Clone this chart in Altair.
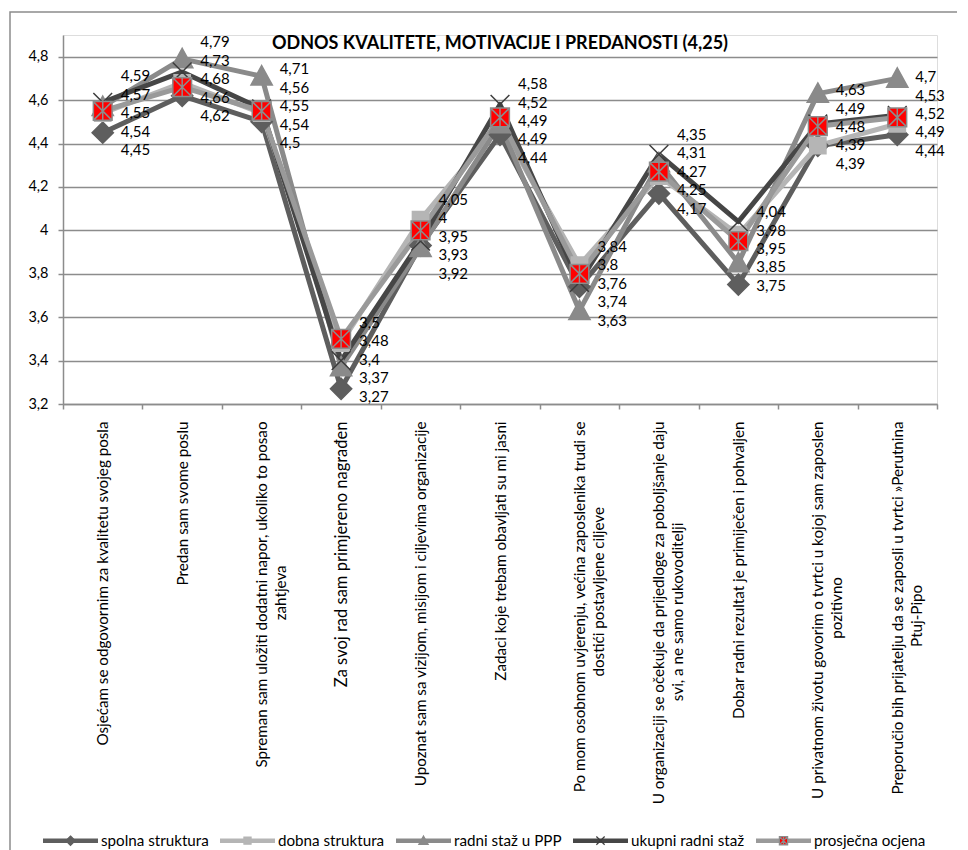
import altair as alt
import pandas as pd

# ---------------- data ----------------
categories = [
    "Osjećam se odgovornim za kvalitetu svojeg posla",
    "Predan sam svome poslu",
    "Spreman sam uložiti dodatni napor, ukoliko to posao\nzahtjeva",
    "Za svoj rad sam primjereno nagrađen",
    "Upoznat sam sa vizijom, misijom i ciljevima organizacije",
    "Zadaci koje trebam obavljati su mi jasni",
    "Po mom osobnom uvjerenju, većina zaposlenika trudi se\ndostići postavljene ciljeve",
    "U organizaciji se očekuje da prijedloge za poboljšanje daju\nsvi, a ne samo rukovoditelji",
    "Dobar radni rezultat je primiječen i pohvaljen",
    "U privatnom životu govorim o tvrtci u kojoj sam zaposlen\npozitivno",
    "Preporučio bih prijatelju da se zaposli u tvrtci »Perutnina\nPtuj-Pipo",
]
series_names = ["spolna struktura", "dobna struktura", "radni staž u PPP",
                "ukupni radni staž", "prosječna ocjena"]

spolna = [4.45, 4.62, 4.50, 3.27, 3.93, 4.44, 3.74, 4.17, 3.75, 4.39, 4.44]
dobna = [4.54, 4.68, 4.54, 3.48, 4.05, 4.49, 3.84, 4.25, 3.98, 4.39, 4.49]
radni_ppp = [4.57, 4.79, 4.71, 3.37, 3.92, 4.49, 3.63, 4.31, 3.85, 4.63, 4.70]
ukupni = [4.59, 4.73, 4.56, 3.40, 3.95, 4.58, 3.76, 4.35, 4.04, 4.49, 4.53]
prosjecna = [4.55, 4.66, 4.55, 3.50, 4.00, 4.52, 3.80, 4.27, 3.95, 4.48, 4.52]

y_ticks = [3.2, 3.4, 3.6, 3.8, 4.0, 4.2, 4.4, 4.6, 4.8]
title_text = "ODNOS KVALITETE, MOTIVACIJE I PREDANOSTI (4,25)"

# ---------------- styles ----------------
FONT = "Lato"
GRID = "#8c8c8c"
line_colors = ["#5e5e5e", "#b5b5b5", "#8a8a8a", "#464646", "#9a9a9a"]
marker_fill = ["#5e5e5e", "#b5b5b5", "#8a8a8a", "transparent", "#ff0000"]
marker_stroke = ["#5e5e5e", "#b5b5b5", "#8a8a8a", "#3c3c3c", "#8c8c8c"]


def with_ends(p):
    return "M-1,0L-1,0M1,0L1,0" + p


marker_paths = [
    with_ends("M0,-0.17L0.17,0L0,0.17L-0.17,0Z"),
    with_ends("M-0.13,-0.13L0.13,-0.13L0.13,0.13L-0.13,0.13Z"),
    with_ends("M0,-0.17L0.17,0.14L-0.17,0.14Z"),
    with_ends("M-0.15,-0.15L0.15,0.15M-0.15,0.15L0.15,-0.15"),
    with_ends("M-0.15,-0.15L0.15,-0.15L0.15,0.15L-0.15,0.15Z"
              "M-0.15,-0.15L0.15,0.15M-0.15,0.15L0.15,-0.15M0,-0.15L0,0.15"),
]
bar_path = "M-1,-0.06L1,-0.06M-1,-0.03L1,-0.03M-1,0L1,0M-1,0.03L1,0.03M-1,0.06L1,0.06"

# second line of a wrapped label centred under the first (Excel style):
# pad it at its end with no-break spaces, closed by a zero-width space so the
# padding is not trimmed away
NBSP = "\u00a0"
ZWSP = "\u200b"


def centred(label):
    parts = label.split("\n")
    if len(parts) < 2:
        return label
    first, second = parts
    n = round((len(first) - len(second)) * 0.85)
    return first + "\n" + second + NBSP * n + ZWSP


cat_display = [centred(c) for c in categories]

# ---------------- table ----------------
all_series = [spolna, dobna, radni_ppp, ukupni, prosjecna]
series_b_names = [s + " " for s in series_names]

gap = 0.085
rows = []
for ci, cat in enumerate(cat_display):
    vals = [all_series[si][ci] for si in range(5)]
    order = sorted(range(5), key=lambda i: -vals[i])
    pos = [vals[i] for i in order]
    for _ in range(300):
        moved = False
        for k in range(1, 5):
            if pos[k - 1] - pos[k] < gap - 1e-9:
                mid = (pos[k - 1] + pos[k]) / 2
                pos[k - 1] = mid + gap / 2
                pos[k] = mid - gap / 2
                moved = True
        if not moved:
            break
    label_y = {order[k]: pos[k] for k in range(5)}
    for si in range(5):
        v = vals[si]
        rows.append({
            "cat": cat,
            "idx": ci,
            "series": series_names[si],
            "series_b": series_b_names[si],
            "value": v,
            "label": f"{v:g}".replace(".", ","),
            "label_y": label_y[si],
        })
df = pd.DataFrame(rows)

# ---------------- encodings ----------------
x_enc = alt.X(
    "cat:N", sort=cat_display, title=None,
    scale=alt.Scale(type="band", paddingInner=0, paddingOuter=0),
    axis=alt.Axis(
        labelAngle=-90, labelAlign="right", labelBaseline="middle",
        labelExpr="split(datum.label, '\\n')",
        labelFont=FONT,
        labelFontSize={"condition": {"test": "datum.value === 'Za svoj rad sam primjereno nagrađen'",
                                     "value": 16.5}, "value": 15.2},
        labelColor="black", labelLimit=600, labelLineHeight=19, labelPadding=12,
        tickBand="extent", ticks=True, tickSize=5, tickColor=GRID, tickWidth=1.5,
        domainColor=GRID, domainWidth=1.5, grid=False,
    ),
)
y_scale = alt.Scale(domain=[3.2, 4.9], nice=False, zero=False)
y_axis = alt.Axis(
    values=y_ticks, labelExpr="replace(format(datum.value, '~g'), '.', ',')",
    labelFont=FONT, labelFontSize=14.5, labelColor="black", labelPadding=10,
    tickSize=5, tickColor=GRID, tickWidth=1.5, domainColor=GRID, domainWidth=1.5,
    grid=True, gridColor=GRID, gridWidth=1.5,
)
y_enc = alt.Y("value:Q", scale=y_scale, axis=y_axis, title=None)

LEG_X = -21
LEG_Y = 777
common_leg = dict(orient="none", legendX=LEG_X, legendY=LEG_Y, direction="horizontal",
                  columns=5, gridAlign="each", symbolSize=3025, symbolStrokeWidth=1.2,
                  symbolOpacity=1, labelFont=FONT, labelFontSize=15.2, labelColor="black",
                  labelOffset=2, columnPadding=8, padding=0, labelLimit=400)

base = alt.Chart(df)

lines = base.mark_line(strokeWidth=5, strokeJoin="round").encode(
    x=x_enc, y=y_enc,
    order=alt.Order("idx:Q"),
    color=alt.Color("series:N", title=None,
                    scale=alt.Scale(domain=series_names, range=line_colors),
                    legend=alt.Legend(symbolType=bar_path, **common_leg)),
)

leg_b = alt.Legend(labelOpacity=0, labelExpr="trim(datum.label)", **common_leg)
points = base.mark_point(filled=True, size=15625, strokeWidth=1.5, opacity=1).encode(
    x=x_enc, y=y_enc,
    shape=alt.Shape("series_b:N", title=None,
                    scale=alt.Scale(domain=series_b_names, range=marker_paths), legend=leg_b),
    fill=alt.Fill("series_b:N", title=None,
                  scale=alt.Scale(domain=series_b_names, range=marker_fill), legend=leg_b),
    stroke=alt.Stroke("series_b:N", title=None,
                      scale=alt.Scale(domain=series_b_names, range=marker_stroke), legend=leg_b),
)

texts = base.mark_text(align="left", baseline="middle", dx=18, font=FONT,
                       fontSize=15, color="black").encode(
    x=x_enc,
    y=alt.Y("label_y:Q", scale=y_scale, axis=y_axis, title=None),
    text="label:N",
)

frame = alt.Chart(pd.DataFrame({"f": [0]})).mark_rect(
    fill="transparent", stroke=GRID, strokeWidth=1.5
).encode(x=alt.value(-53), x2=alt.value(1200), y=alt.value(-23), y2=alt.value(1200))

chart = alt.layer(frame, lines, points, texts).properties(
    width=874, height=369,
    title=alt.TitleParams(title_text, font=FONT, fontSize=18, fontWeight="bold",
                          color="black", anchor="middle", frame="group", offset=-42),
    autosize=alt.AutoSizeParams(type="none"),
    padding={"left": 55, "top": 27, "right": 20, "bottom": 452},
).configure_view(stroke=None).configure(background="white")

chart.save("out.html", embed_options={"renderer": "svg", "actions": False})
